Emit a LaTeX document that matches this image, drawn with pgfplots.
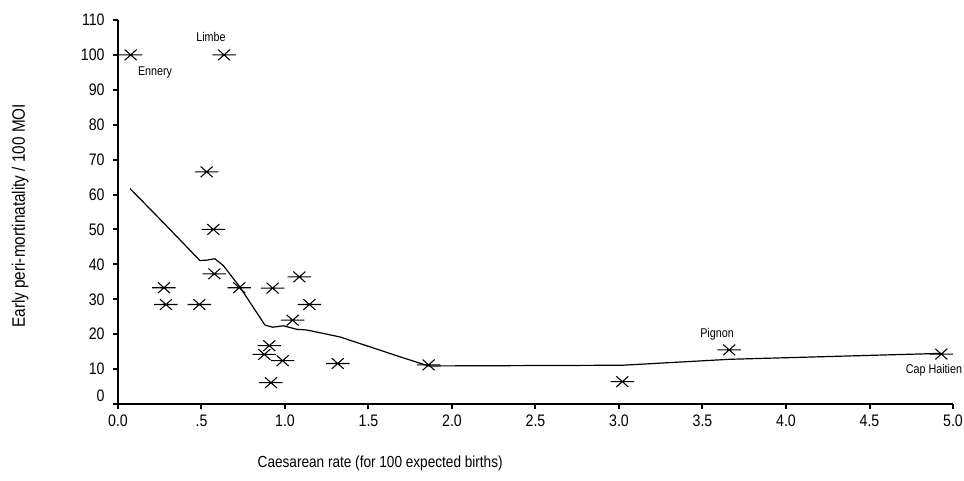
\documentclass[border=0pt]{standalone}
\usepackage{fontspec}
\setmainfont[FakeStretch=0.85]{Liberation Sans}
\usepackage{pgfplots}
\pgfplotsset{compat=1.18}
\pgfdeclareplotmark{xbar}{%
  \pgfpathmoveto{\pgfpoint{-8.8pt}{0pt}}\pgfpathlineto{\pgfpoint{8.8pt}{0pt}}%
  \pgfpathmoveto{\pgfpoint{-4.5pt}{-4pt}}\pgfpathlineto{\pgfpoint{4.5pt}{4pt}}%
  \pgfpathmoveto{\pgfpoint{-4.5pt}{4pt}}\pgfpathlineto{\pgfpoint{4.5pt}{-4pt}}%
  \pgfusepathqstroke}
\begin{document}
\begin{tikzpicture}
\begin{axis}[
  at={(0,0)}, anchor=south west,
  scale only axis, width=626.25pt, height=288pt,
  xmin=0, xmax=5, ymin=0, ymax=110,
  axis x line=bottom, axis y line=left,
  axis line style={-, line width=1.3pt},
  xtick={0,0.5,...,5},
  xticklabels={0.0,.5,1.0,1.5,2.0,2.5,3.0,3.5,4.0,4.5,5.0},
  ytick={10,20,...,110},
  extra y ticks={0},
  extra y tick style={yticklabel style={yshift=6.5pt}},
  tick align=outside,
  major tick length=3.5pt,
  every tick/.style={line width=1.5pt, black},
  tick label style={font=\fontsize{12.5}{14}\selectfont},
  /pgf/number format/assume math mode=true,
  xticklabel style={yshift=-1pt},
  yticklabel style={xshift=-3pt},
  xlabel={Caesarean rate (for 100 expected births)},
  ylabel={Early peri-mortinatality / 100 MOI},
  xlabel style={font=\fontsize{12}{14}\selectfont, at={(axis description cs:0.1617,-0.154)}, anchor=west},
  ylabel style={font=\fontsize{13.5}{15}\selectfont, at={(axis description cs:-0.117,0.49)}, anchor=center, rotate=0},
  clip=false,
]
\addplot[only marks, mark=xbar, mark options={line width=0.8pt, black}] coordinates {
(0.076,100) (0.635,100) (0.531,66.5) (0.571,50) (0.577,37.3)
(0.275,33.3) (0.287,28.5) (0.487,28.5) (0.726,33.3) (0.926,33.2)
(1.086,36.4) (1.146,28.5) (1.046,24.0) (0.906,16.7) (0.876,14.2)
(0.986,12.4) (0.916,6.1) (1.316,11.6) (1.86,11.2) (3.02,6.4)
(3.66,15.5) (4.93,14.3)
};
\addplot[black, line width=0.9pt, mark=none] coordinates {
(0.072,61.7) (0.275,51.8) (0.49,41.1) (0.53,41.2) (0.58,41.6)
(0.63,39.7) (0.73,33.5) (0.88,22.6) (0.926,22.0) (0.99,22.4)
(1.07,21.4) (1.13,21.2) (1.33,19.2) (1.69,13.5) (1.86,10.9)
(3.02,11.1) (3.66,12.8) (4.93,14.5)
};
\node[font=\fontsize{9.5}{11}\selectfont] at (axis cs:0.557,105.1) {Limbe};
\node[font=\fontsize{9.5}{11}\selectfont] at (axis cs:0.222,94.9) {Ennery};
\node[font=\fontsize{9.5}{11}\selectfont] at (axis cs:3.587,20) {Pignon};
\node[font=\fontsize{9.5}{11}\selectfont] at (axis cs:4.886,9.7) {Cap Haitien};
\end{axis}
\pgfresetboundingbox
\path (-88.5pt,-57.75pt) rectangle (634.5pt,303pt);
\end{tikzpicture}
\end{document}
